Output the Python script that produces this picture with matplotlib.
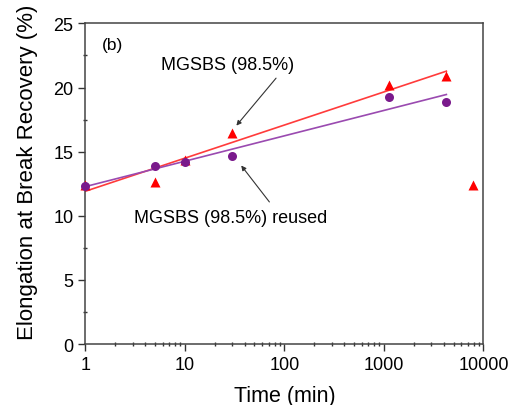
import numpy as np
import matplotlib
matplotlib.use("Agg")
import matplotlib.pyplot as plt
from matplotlib.ticker import MultipleLocator, LogLocator, NullFormatter, FixedLocator

plt.rcParams["font.family"] = ["Liberation Sans", "DejaVu Sans"]

# data
time_new = [1, 5, 10, 30, 1130, 4240, 7900]
elong_new = [12.37, 12.66, 14.36, 16.43, 20.19, 20.89, 12.42]

time_reused = [1, 5, 10, 30, 1130, 4240]
elong_reused = [12.3, 13.9, 14.18, 14.65, 19.28, 18.84]

# linear fit in log(time), last red point left out of the fit
fit_x = np.array([time_reused[0], time_reused[-1]], dtype=float)
p_new = np.polyfit(np.log10(time_new[:6]), elong_new[:6], 1)
p_reused = np.polyfit(np.log10(time_reused), elong_reused, 1)

fig = plt.figure(figsize=(5.1, 4.06), dpi=100)
ax = fig.add_axes([0.167, 0.15, 0.781, 0.79])

ax.plot(fit_x, np.polyval(p_new, np.log10(fit_x)), color="#ff3b3b", lw=1.2, zorder=2)
ax.plot(fit_x, np.polyval(p_reused, np.log10(fit_x)), color="#9a4ab0", lw=1.2, zorder=2)

ax.plot(time_new, elong_new, "^", color="#ff0000", ms=6.5, mec="none", zorder=3,
        clip_on=False)
ax.plot(time_reused, elong_reused, "o", color="#7a1a8c", ms=6.5, mec="none", zorder=3,
        clip_on=False)

ax.set_xscale("log")
ax.set_xlim(1, 10000)
ax.set_ylim(0, 25)
ax.xaxis.set_major_locator(FixedLocator([1, 10, 100, 1000, 10000]))
ax.set_xticklabels(["1", "10", "100", "1000", "10000"])
ax.xaxis.set_minor_locator(LogLocator(base=10, subs=np.arange(2, 10)))
ax.xaxis.set_minor_formatter(NullFormatter())
ax.yaxis.set_major_locator(MultipleLocator(5))
ax.yaxis.set_minor_locator(MultipleLocator(2.5))

ax.tick_params(axis="both", which="major", direction="out", length=5, width=1,
               labelsize=13, colors="#333333", labelcolor="black")
ax.tick_params(axis="both", which="minor", direction="inout", length=3, width=1,
               colors="#333333")
for s in ax.spines.values():
    s.set_color("#444444")
    s.set_linewidth(1.1)

ax.set_xlabel("Time (min)", fontsize=15.5, labelpad=9)
ax.set_ylabel("Elongation at Break Recovery (%)", fontsize=16)
ax.yaxis.set_label_coords(-0.118, 0.54)

ax.text(0.043, 0.935, "(b)", transform=ax.transAxes, fontsize=12.5, va="center")

ax.text(27, 21.8, "MGSBS (98.5%)", fontsize=13, ha="center", va="center")
ax.text(28.7, 9.9, "MGSBS (98.5%) reused", fontsize=13, ha="center", va="center")

arrow = dict(arrowstyle="-|>", color="#333333", lw=0.8, shrinkA=0, shrinkB=0,
             mutation_scale=7)
ax.annotate("", xy=(33, 17.03), xytext=(82.6, 20.73), arrowprops=arrow)
ax.annotate("", xy=(36.9, 13.92), xytext=(70.8, 11.08), arrowprops=arrow)

fig.savefig("out.png", dpi=100)
